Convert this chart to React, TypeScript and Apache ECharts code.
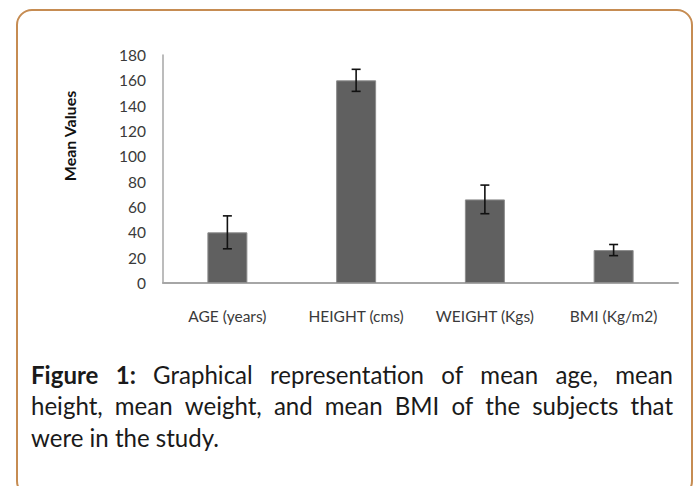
import React, { useEffect, useRef } from "react";
import * as echarts from "echarts";

const categories = ["AGE (years)", "HEIGHT (cms)", "WEIGHT (Kgs)", "BMI (Kg/m2)"];
const meanValues = [40, 160, 66, 26];
const errorValues = [13, 8.7, 11.3, 4.4];
const yTicks = { min: 0, max: 180, interval: 20 };
const yAxisTitle = "Mean Values";
const captionLines: { words: string[]; bold: number; justify: boolean }[] = [
  { words: ["Figure", "1:", "Graphical", "representation", "of", "mean", "age,", "mean"], bold: 2, justify: true },
  { words: ["height,", "mean", "weight,", "and", "mean", "BMI", "of", "the", "subjects", "that"], bold: 0, justify: true },
  { words: ["were", "in", "the", "study."], bold: 0, justify: false },
];

const FONT = "Lato, 'Open Sans', sans-serif";

function buildCaption(): any[] {
  const canvas = document.createElement("canvas");
  const ctx = canvas.getContext("2d")!;
  const measure = (t: string, size: number, bold: boolean) => {
    ctx.font = `${bold ? "bold " : ""}${size}px Lato`;
    return ctx.measureText(t).width;
  };
  const baseSize = 22;
  const w3 = measure("were in the study.", baseSize, false);
  const size = Math.max(18, Math.min(26, (baseSize * 188) / (w3 || 188)));
  const left = 31;
  const right = 673;
  const ys = [374, 405, 437];
  const els: any[] = [];
  captionLines.forEach((line, li) => {
    const widths = line.words.map((w, i) => measure(w, size, i < line.bold));
    const total = widths.reduce((a, b) => a + b, 0);
    const space = measure(" ", size, false);
    const gap = line.justify ? (right - left - total) / (line.words.length - 1) : space;
    let x = left;
    line.words.forEach((w, i) => {
      els.push({
        type: "text",
        x,
        y: ys[li],
        style: {
          text: w,
          font: `${i < line.bold ? "bold " : ""}${size}px Lato`,
          fill: "#1a1a1a",
          textVerticalAlign: "middle",
          verticalAlign: "middle",
        },
      });
      x += widths[i] + gap;
    });
  });
  return els;
}

export default function App() {
  const ref = useRef<HTMLDivElement>(null);
  useEffect(() => {
    if (!ref.current) return;
    const chart = echarts.init(ref.current, undefined, { renderer: "svg" });
    const errData = categories.map((_, i) => [i, meanValues[i], errorValues[i]]);
    chart.setOption({
      animation: false,
      backgroundColor: "#ffffff",
      grid: { left: 163, right: 19, top: 55, bottom: 203 },
      xAxis: {
        type: "category",
        data: categories,
        axisLine: { lineStyle: { color: "#a6a6a6", width: 2 } },
        axisTick: { show: false },
        axisLabel: { color: "#3a3a3a", fontSize: 15.5, fontFamily: FONT, margin: 25 },
      },
      yAxis: {
        type: "value",
        min: yTicks.min,
        max: yTicks.max,
        interval: yTicks.interval,
        splitLine: { show: false },
        axisLine: { show: true, lineStyle: { color: "#a6a6a6", width: 1.5 } },
        axisTick: { show: false },
        axisLabel: { color: "#3a3a3a", fontSize: 15.5, fontFamily: FONT, margin: 17 },
      },
      series: [
        {
          type: "bar",
          data: meanValues,
          barWidth: 40,
          itemStyle: { color: "#606060", borderColor: "#8c8c8c", borderWidth: 1 },
        },
        {
          type: "custom",
          data: errData,
          z: 10,
          renderItem: (params: any, api: any) => {
            const x = api.value(0);
            const m = api.value(1);
            const e = api.value(2);
            const top = api.coord([x, m + e]);
            const bot = api.coord([x, m - e]);
            const hw = 4.5;
            const style = { stroke: "#111111", lineWidth: 1.6 };
            return {
              type: "group",
              children: [
                { type: "line", shape: { x1: top[0], y1: top[1], x2: bot[0], y2: bot[1] }, style },
                { type: "line", shape: { x1: top[0] - hw, y1: top[1], x2: top[0] + hw, y2: top[1] }, style },
                { type: "line", shape: { x1: bot[0] - hw, y1: bot[1], x2: bot[0] + hw, y2: bot[1] }, style },
              ],
            };
          },
        },
      ],
      graphic: [
        {
          type: "rect",
          shape: { x: 17, y: 10, width: 675, height: 486, r: 15 },
          style: { fill: "none", stroke: "#c68c52", lineWidth: 2 },
          z: -1,
        },
        {
          type: "text",
          x: 69,
          y: 136,
          rotation: Math.PI / 2,
          style: {
            text: yAxisTitle,
            font: `bold 16px ${FONT}`,
            fill: "#111111",
            align: "center",
            verticalAlign: "middle",
            textAlign: "center",
            textVerticalAlign: "middle",
          },
        },
        ...buildCaption(),
      ],
    });
    return () => chart.dispose();
  }, []);
  return (
    <div
      ref={ref}
      style={{ position: "fixed", left: 0, top: 0, width: 697, height: 486 }}
    />
  );
}
